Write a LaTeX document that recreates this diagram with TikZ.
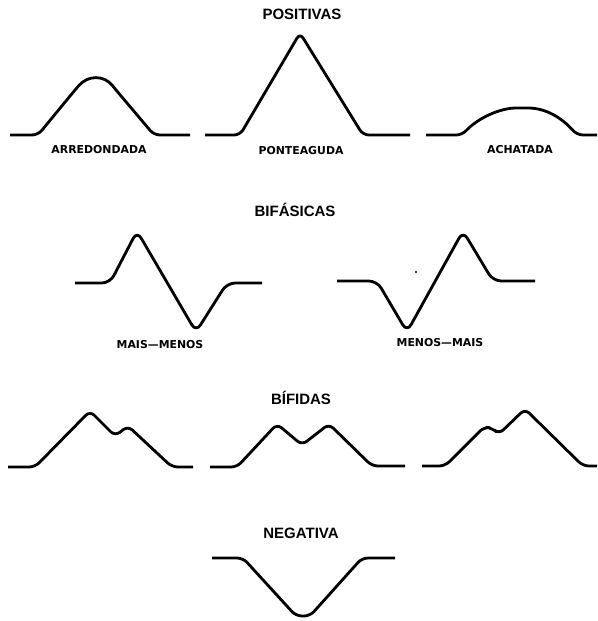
\documentclass[tikz,border=0pt]{standalone}
\usepackage{fontspec}
\setmainfont{Liberation Sans}
\newfontfamily\labfont{DejaVu Sans}
\usepackage{tikz}

\begin{document}
\begin{tikzpicture}[
  x=0.03cm, y=-0.03cm,
  wave/.style={line width=2.4pt, line join=round, rounded corners=5pt},
  title/.style={font=\fontsize{12.8}{14}\selectfont\bfseries, inner sep=0pt},
  lab/.style={font=\labfont\fontsize{9.3}{11}\selectfont\bfseries, inner sep=0pt},
]
\useasboundingbox (0,0) rectangle (598,621);

%% POSITIVAS
\node[title] (titPos) at (302,14) {POSITIVAS};

%% Arredondada: rounded top
\draw[wave] (10,135) -- (38,135) -- (75,90) .. controls (88,75) and (104,75) .. (116,90)
  -- (154,135) -- (190,135);
\node[lab] (labArr) at (99,150) {ARREDONDADA};

%% Ponteaguda: sharp peak
\draw[wave] (205,135) -- (240,135) -- (300,33) -- (363,135) -- (410,135);
\node[lab] (labPon) at (301,151) {PONTEAGUDA};

%% Achatada: low dome
\draw[wave] (426,135) -- (462,135)
  .. controls (478,118) and (500,108) .. (522,108)
  .. controls (546,108) and (562,118) .. (577,135) -- (597,135);
\node[lab] (labAch) at (520,150) {ACHATADA};

%% BIFASICAS
\node[title] (titBif) at (295,210) {BIFÁSICAS};

%% Mais-menos
\draw[wave, rounded corners=7pt] (75,283) -- (110,283) -- (137,231) -- (196,332)
  -- (227,283) -- (262,283);
\node[lab] (labMaisMenos) at (160,345) {MAIS—MENOS};

%% Menos-mais
\draw[wave, rounded corners=7pt] (337,281) -- (377,281) -- (407,332) -- (463,231)
  -- (493,281) -- (535,281);
\node[lab] (labMenosMais) at (440,343) {MENOS—MAIS};

%% speck
\fill (416,272) circle (0.9pt);

%% BIFIDAS
\node[title] (titBifi) at (301,398) {BÍFIDAS};

\draw[wave] (8,467) -- (35,467) -- (90,411) -- (115,436) -- (128,426) -- (172,467) -- (193,467);
\draw[wave] (210,467) -- (237,467) -- (277,424) -- (302,445) -- (329,424) -- (372,466) -- (405,466);
\draw[wave] (422,466) -- (445,466) -- (484,427) -- (492,428) -- (499,434) -- (525,409)
  -- (583,466) -- (597,466);

%% NEGATIVA
\node[title] (titNeg) at (301,533) {NEGATIVA};

\draw[wave] (212,558) -- (243,558) -- (296,616) -- (310,616) -- (362,558) -- (395,558);

\end{tikzpicture}
\end{document}
